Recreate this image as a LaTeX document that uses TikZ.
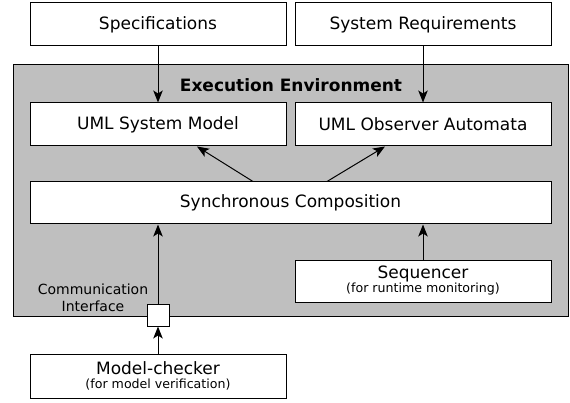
\documentclass[tikz,border=0pt]{standalone}
\usepackage{fontspec}
\setmainfont{DejaVu Sans}
\usetikzlibrary{arrows.meta}
\newcommand{\subtxt}{\fontsize{12.6}{14}\selectfont}
\tikzset{
  blk/.style={draw,fill=white,line width=1pt,minimum width=256pt,minimum height=43pt,inner sep=0pt,align=center,font=\fontsize{17}{14}\selectfont},
}
\begin{document}
\begin{tikzpicture}[>={Stealth[length=12pt,width=9.5pt,inset=3pt]},x=1pt,y=1pt,line width=1pt]
\useasboundingbox (0,0) rectangle (570,402);
\node[draw,fill=black!25,minimum width=555pt,minimum height=251pt,inner sep=0pt] (env) at (290.5,211.5) {};
\node[font=\fontsize{17}{20}\selectfont\bfseries] (envtitle) at (291,317) {Execution Environment};
\node[blk] (spec) at (158,377.5) {Specifications};
\node[blk] (sysreq) at (423,377.5) {System Requirements};
\node[blk] (umlsm) at (158,277.5) {UML System Model};
\node[blk] (umloa) at (423,277.5) {UML Observer Automata};
\node[blk,minimum width=521pt,minimum height=42pt] (sync) at (290.5,199) {Synchronous Composition};
\node[blk,minimum height=42pt] (seq) at (423,121) {Sequencer\\{\subtxt (for runtime monitoring)}};
\node[blk,minimum height=44pt] (mc) at (158,26) {Model-checker\\{\subtxt (for model verification)}};
\node[draw,fill=white,minimum size=22pt,inner sep=0pt] (iface) at (158,87) {};
\node[align=center,font=\fontsize{14}{17}\selectfont] (ifacelbl) at (93,104) {Communication\\Interface};
\draw[->] (spec) -- (umlsm);
\draw[->] (sysreq) -- (umloa);
\draw[->] ([xshift=-37.5pt]sync.north) -- ([xshift=39pt]umlsm.south);
\draw[->] ([xshift=36.5pt]sync.north) -- ([xshift=-38pt]umloa.south);
\draw[->] (iface) -- (iface |- sync.south);
\draw[->] (seq) -- (seq |- sync.south);
\draw[->] (mc) -- (iface);
\end{tikzpicture}
\end{document}
